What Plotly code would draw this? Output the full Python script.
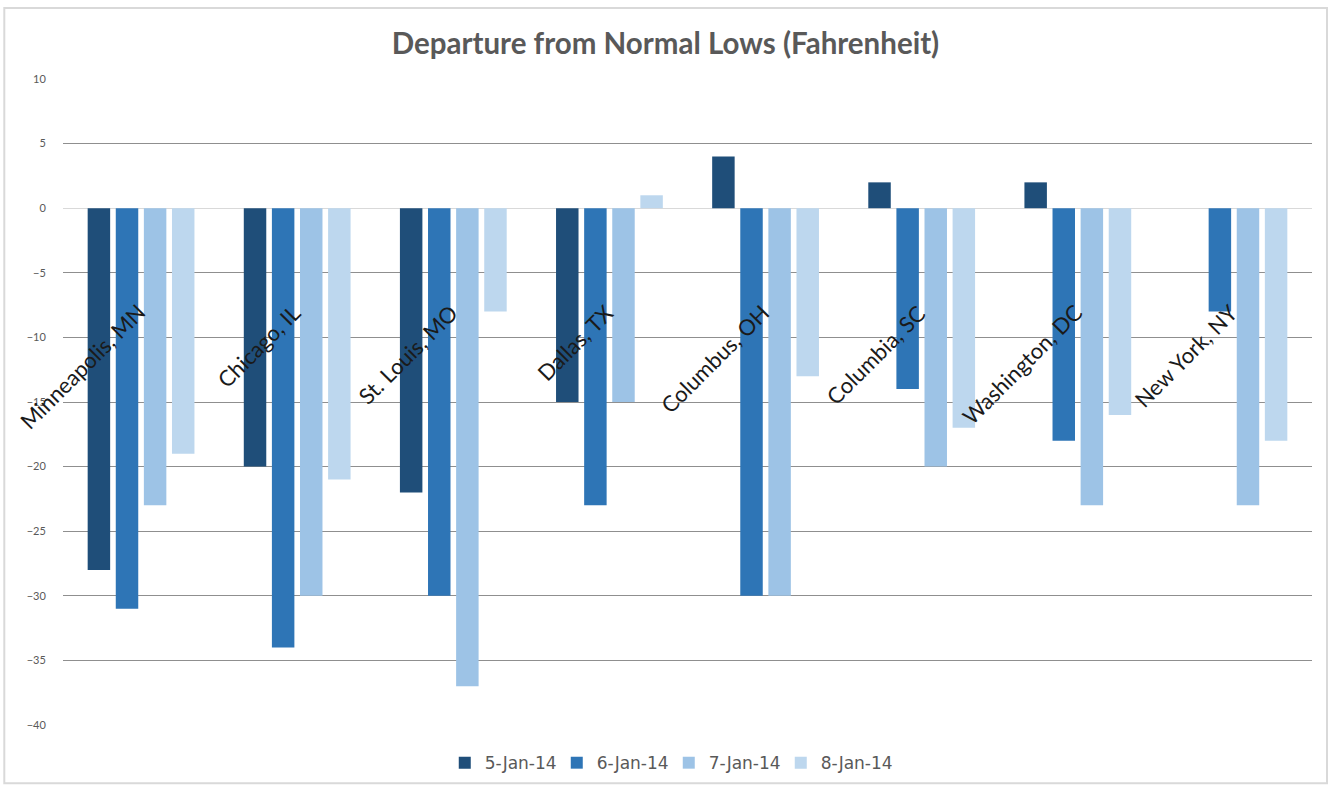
import plotly.graph_objects as go

cities = ["Minneapolis, MN", "Chicago, IL", "St. Louis, MO", "Dallas, TX",
          "Columbus, OH", "Columbia, SC", "Washington, DC", "New York, NY"]
series_names = ["5-Jan-14", "6-Jan-14", "7-Jan-14", "8-Jan-14"]
jan5 = [-28, -20, -22, -15, 4, 2, 2, 0]
jan6 = [-31, -34, -30, -23, -30, -14, -18, -8]
jan7 = [-23, -30, -37, -15, -30, -20, -23, -23]
jan8 = [-19, -21, -8, 1, -13, -17, -16, -18]
y_ticks = [10, 5, 0, -5, -10, -15, -20, -25, -30, -35, -40]

colors = ["#1f4e79", "#2e75b6", "#9dc3e6", "#bdd7ee"]

fig = go.Figure()
for name, vals, c in zip(series_names, [jan5, jan6, jan7, jan8], colors):
    fig.add_trace(go.Bar(x=cities, y=vals, name=name, marker_color=c,
                         marker_line_width=0))

for city in cities:
    fig.add_annotation(x=city, y=-6.8, text=city, showarrow=False,
                       textangle=-45, xanchor="right", yanchor="top",
                       xshift=12, font=dict(family="Lato, sans-serif", size=22, color="#1a1a1a"))

fig.add_shape(type="rect", xref="paper", yref="paper",
              x0=-0.047, x1=1.012, y0=-0.09, y1=1.11,
              line=dict(color="#d9d9d9", width=2), fillcolor="rgba(0,0,0,0)", layer="below")

fig.update_layout(
    width=1331, height=787,
    margin=dict(l=63, r=19, t=79, b=62, autoexpand=False),
    paper_bgcolor="white", plot_bgcolor="white",
    barmode="group", bargap=0.28, bargroupgap=0.2,
    title=dict(text="<b>Departure from Normal Lows (Fahrenheit)</b>",
               x=0.5, xanchor="center", y=0.945, yref="container", yanchor="middle",
               font=dict(family="Lato, sans-serif", size=29.5, color="#595959")),
    legend=dict(orientation="h", x=0.485, xanchor="center", y=-0.059, yanchor="middle",
                font=dict(family="DejaVu Sans, sans-serif", size=17, color="#595959"),
                itemwidth=30, traceorder="normal", entrywidth=67, entrywidthmode="pixels"),
    xaxis=dict(range=[-0.5, len(cities) - 0.5], autorange=False, showticklabels=False,
               showgrid=False, zeroline=False, showline=False),
    yaxis=dict(range=[-40, 10], autorange=False, tickvals=y_ticks, showgrid=True,
               gridcolor="#8f8f8f", gridwidth=1, zeroline=True, zerolinecolor="#d9d9d9",
               zerolinewidth=1, ticks="outside", ticklen=14, tickcolor="rgba(0,0,0,0)",
               tickfont=dict(family="Lato, sans-serif", size=11, color="#595959")),
)

fig.write_html("out.html", config={"displayModeBar": False},
               post_script="document.body.style.margin='0';document.body.style.overflow='hidden';")
